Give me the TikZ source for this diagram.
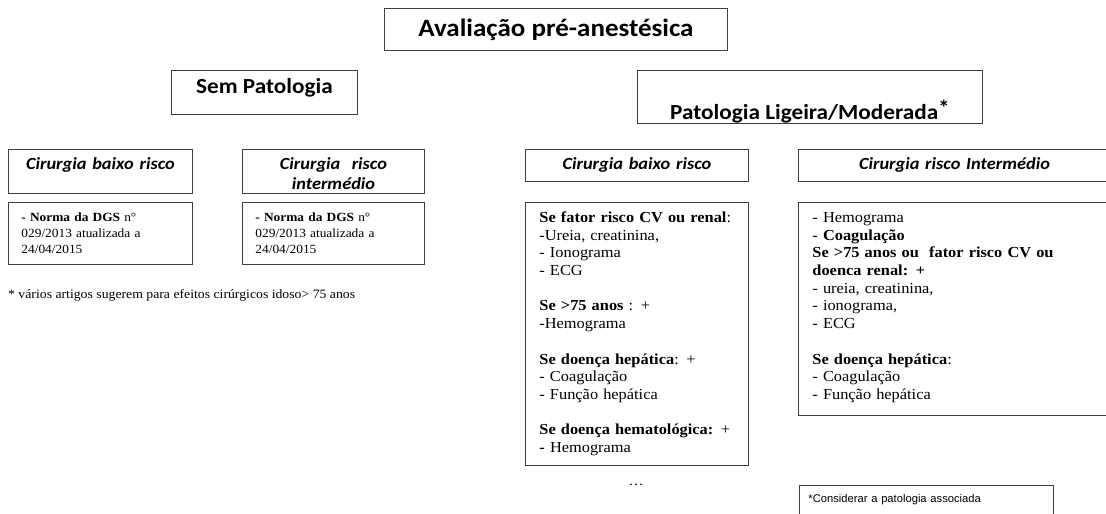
\documentclass[tikz,border=0pt]{standalone}
\usepackage{fontspec}
\setmainfont[FakeStretch=1.07]{Liberation Serif}
\newfontfamily\calib[FakeStretch=1.08]{Carlito}
\newfontfamily\arial{Liberation Sans}
\usepackage{xcolor}
\usepackage{tikz}
\usetikzlibrary{positioning}
\definecolor{boxline}{HTML}{3F3F3F}
\tikzset{box/.style={rectangle,draw=boxline,line width=0.9pt,anchor=north west,inner ysep=4pt},
  head/.style={box,font=\calib\bfseries\fontsize{21.5}{24}\selectfont,inner xsep=0pt},
  cir/.style={box,font=\calib\bfseries\itshape\fontsize{17}{20}\selectfont,align=center,inner xsep=6pt,inner ysep=6pt,text height=14pt},
  txt/.style={box,font=\fontsize{15.3}{17.7}\selectfont,align=left,inner ysep=8pt,text height=12pt}}

\begin{document}
\begin{tikzpicture}[x=1pt,y=-1pt]
    \useasboundingbox (0,0) rectangle (1106,514);

    \node[head,font=\calib\bfseries\fontsize{25}{28}\selectfont,minimum width=343pt,text height=24pt,text depth=10pt] (a) at (384,8) {Avaliação pré-anestésica};
    \node[head,minimum width=186pt,text height=19pt,text depth=17pt] (b) at (171,70) {Sem Patologia};
    \node[head,minimum width=345pt,text height=45pt,text depth=0pt] (c) at (637,70) {Patologia Ligeira/Moderada\raisebox{4pt}{*}};

    \node[cir,text width=172pt,text depth=18pt] (d) at (8,149) {Cirurgia baixo risco};
    \node[cir,text width=170pt,text depth=18pt] (e) at (242,149) {Cirurgia\ \ risco\\intermédio};
    \node[cir,text width=211pt,text depth=6pt] (f) at (525,149) {Cirurgia baixo risco};
    \node[cir,text width=300pt,text depth=6pt] (g) at (798,149) {Cirurgia risco Intermédio};

    \node[txt,font=\fontsize{12.5}{16}\selectfont,inner xsep=13pt,text width=158pt,text height=11pt,text depth=35pt] (h) at (8,202) {\textbf{- Norma da DGS} n°\\029/2013 atualizada a\\24/04/2015};
    \node[txt,font=\fontsize{12.5}{16}\selectfont,inner xsep=13pt,text width=156pt,text height=11pt,text depth=35pt] (i) at (242,202) {\textbf{- Norma da DGS} n°\\029/2013 atualizada a\\24/04/2015};
    \node[txt,inner xsep=14pt,text width=195pt,text depth=235pt] (j) at (525,202) {\textbf{Se fator risco CV ou renal}:\\
        -Ureia, creatinina,\\
        - Ionograma\\
        - ECG\\[17.7pt]
        \textbf{Se >75 anos} : +\\
        -Hemograma\\[17.7pt]
        \textbf{Se doença hepática}: +\\
        - Coagulação\\
        - Função hepática\\[17.7pt]
        \textbf{Se doença hematológica:} +\\
        \textbf{-} Hemograma};
    \node[txt,inner xsep=14pt,text width=284pt,text depth=185pt] (k) at (798,202) {- Hemograma\\
        - \textbf{Coagulação}\\
        \textbf{Se >75 anos ou\ \ fator risco CV ou}\\
        \textbf{doenca renal: +}\\
        - ureia, creatinina,\\
        - ionograma,\\
        - ECG\\[17.7pt]
        \textbf{Se doença hepática}:\\
        - Coagulação\\
        - Função hepática};

    \node[anchor=base west,inner sep=0pt,font=\fontsize{12.85}{15}\selectfont] (l) at (8,298) {* vários artigos sugerem para efeitos cirúrgicos idoso> 75 anos};
    \node[anchor=base,inner sep=0pt,font=\fontsize{14}{16}\selectfont] (m) at (636,485) {\ldots};
    \node[box,font=\arial\fontsize{11.2}{13}\selectfont,minimum width=254pt,text width=236pt,inner xsep=9pt,inner ysep=5pt,text height=12pt,text depth=30pt,align=left] (n) at (799,485) {*Considerar a patologia associada};
\end{tikzpicture}
\end{document}
